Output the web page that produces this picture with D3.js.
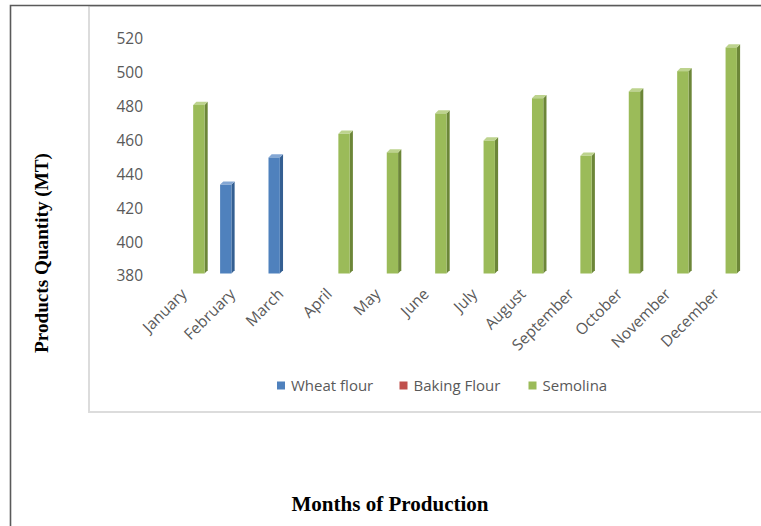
<!DOCTYPE html>
<html><head><meta charset="utf-8">
<script src="https://cdn.jsdelivr.net/npm/d3@7"></script>
<style>html,body{margin:0;padding:0;background:#fff;}svg{display:block;}</style>
</head><body>
<script>
const months = ["January","February","March","April","May","June","July","August","September","October","November","December"];
const seriesNames = ["Wheat flour","Baking Flour","Semolina"];
const wheatFlour  = [null,434,450,null,null,null,null,null,null,null,null,null];
const bakingFlour = [null,null,null,null,null,null,null,null,null,null,null,null];
const semolina    = [481,null,null,464,453,476,460,485,451,489,501,515];
const yTicks = [380,400,420,440,460,480,500,520];
const colors = {
  "Wheat flour": {front:"#4f81bd", side:"#345f92", top:"#84a7d4"},
  "Baking Flour": {front:"#c0504d", side:"#8f3633", top:"#d98481"},
  "Semolina": {front:"#9bbb59", side:"#6c8638", top:"#bdd38e"}
};
const seriesData = {"Wheat flour": wheatFlour, "Baking Flour": bakingFlour, "Semolina": semolina};

const W = 761, H = 526;
const svg = d3.select("body").append("svg").attr("width", W).attr("height", H);

// frames
svg.append("rect").attr("x",89).attr("y",6).attr("width",700).attr("height",406)
  .attr("fill","none").attr("stroke","#dcdcdc").attr("stroke-width",2);
svg.append("path").attr("d","M10.5,526 L10.5,5.5 L761,5.5")
  .attr("fill","none").attr("stroke","#5a5a5a").attr("stroke-width",1.6);

const x = d3.scaleBand().domain(months).range([163.6, 744.4]).paddingInner(0).paddingOuter(0);
const x1 = d3.scaleBand().domain(seriesNames).range([x.bandwidth()/2 - 16.1, x.bandwidth()/2 + 16.1]);
const y = d3.scaleLinear().domain([380,520]).range([276,39]);

// y axis labels
const yAxis = d3.axisLeft(y).tickValues(yTicks).tickSize(0).tickPadding(0);
const ga = svg.append("g").attr("transform","translate(143,0)").call(yAxis);
ga.select(".domain").remove();
ga.selectAll("text").attr("font-family","'Open Sans', sans-serif").attr("font-size",15.5).attr("fill","#595959");

const base = y(380) - 2.5;
const dx = 3.2, dy = -3.2;
const bw = x1.bandwidth() + 0.6;

const bars = [];
seriesNames.forEach(s => {
  seriesData[s].forEach((v,i) => { if (v != null) bars.push({s, m: months[i], v}); });
});
const bg = svg.append("g");
bars.forEach(b => {
  const x0 = x(b.m) + x1(b.s);
  const yt = y(b.v);
  const c = colors[b.s];
  const g = bg.append("g");
  g.append("path").attr("d", `M${x0+bw},${yt} L${x0+bw+dx},${yt+dy} L${x0+bw+dx},${base+dy} L${x0+bw},${base} Z`).attr("fill", c.side);
  g.append("path").attr("d", `M${x0},${yt} L${x0+dx},${yt+dy} L${x0+bw+dx},${yt+dy} L${x0+bw},${yt} Z`).attr("fill", c.top);
  g.append("rect").attr("x", x0).attr("y", yt).attr("width", bw).attr("height", base - yt).attr("fill", c.front);
});

// month labels
svg.append("g").selectAll("text").data(months).join("text")
  .attr("transform", d => `translate(${x(d)+x.bandwidth()/2},${295}) rotate(-45)`)
  .attr("text-anchor","end")
  .attr("font-family","'Open Sans', sans-serif").attr("font-size",15.5).attr("fill","#595959")
  .text(d => d);

// legend
const legX = [277, 399.5, 528.5];
const lg = svg.append("g");
seriesNames.forEach((s,i) => {
  lg.append("rect").attr("x", legX[i]).attr("y", 381.5).attr("width", 8).attr("height", 8).attr("fill", colors[s].front);
  lg.append("text").attr("x", legX[i] + 14).attr("y", 391).attr("font-family","'Open Sans', sans-serif")
    .attr("font-size",15).attr("fill","#595959").text(s);
});

// axis titles
svg.append("text").attr("x", 390).attr("y", 511).attr("text-anchor","middle")
  .attr("font-family","'Liberation Serif', 'DejaVu Serif', serif").attr("font-weight","bold")
  .attr("font-size",20).attr("textLength",197).attr("lengthAdjust","spacingAndGlyphs").attr("fill","#000")
  .text("Months of Production");
svg.append("text").attr("transform","translate(48,253) rotate(-90)").attr("text-anchor","middle")
  .attr("font-family","'Liberation Serif', 'DejaVu Serif', serif").attr("font-weight","bold")
  .attr("font-size",19).attr("textLength",200).attr("lengthAdjust","spacingAndGlyphs").attr("fill","#000")
  .text("Products Quantity (MT)");
</script>
</body></html>
